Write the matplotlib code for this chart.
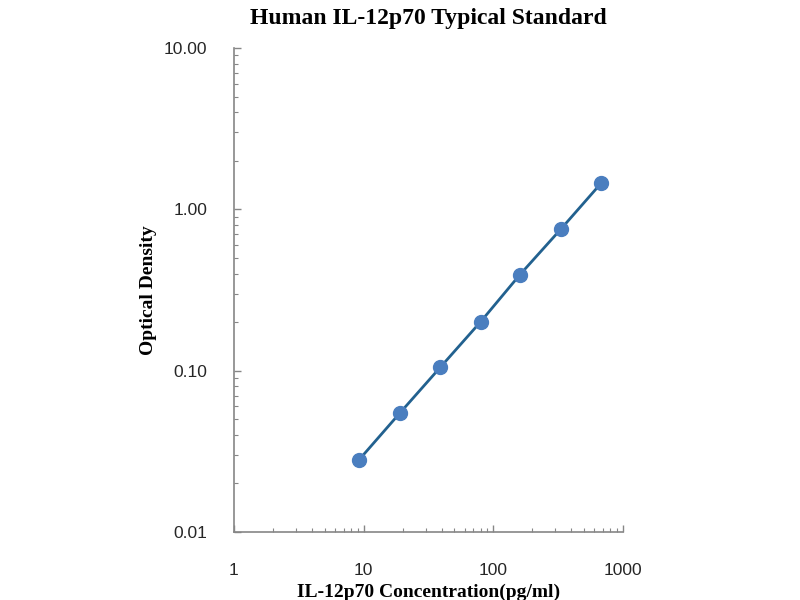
import matplotlib
matplotlib.use("Agg")
import matplotlib.pyplot as plt
from matplotlib.ticker import LogLocator, FixedLocator, FixedFormatter, NullFormatter

# Data
concentration = [9.2, 19, 39, 80, 160, 330, 680]
optical_density = [0.028, 0.0546, 0.105, 0.2015, 0.393, 0.751, 1.457]

x_ticks = [1, 10, 100, 1000]
x_tick_labels = ["1", "10", "100", "1000"]
y_ticks = [0.01, 0.1, 1, 10]
y_tick_labels = ["0.01", "0.10", "1.00", "10.00"]

title = "Human IL-12p70 Typical Standard"
x_label = "IL-12p70 Concentration(pg/ml)"
y_label = "Optical Density"

fig = plt.figure(figsize=(8, 6), dpi=100)
ax = fig.add_axes([0.2925, 0.1133, 0.4863, 0.8067])

ax.plot(concentration, optical_density, color="#22618f", linewidth=2, zorder=2)
ax.plot(concentration, optical_density, linestyle="none", marker="o",
        markersize=10, markerfacecolor="#4a7ebf", markeredgecolor="#4a7ebf", zorder=3)

ax.set_xscale("log")
ax.set_yscale("log")
ax.set_xlim(1, 1000)
ax.set_ylim(0.01, 10)

ax.xaxis.set_major_locator(FixedLocator(x_ticks))
ax.xaxis.set_major_formatter(FixedFormatter(x_tick_labels))
ax.yaxis.set_major_locator(FixedLocator(y_ticks))
ax.yaxis.set_major_formatter(FixedFormatter(y_tick_labels))
ax.xaxis.set_minor_locator(LogLocator(base=10, subs=range(2, 10)))
ax.yaxis.set_minor_locator(LogLocator(base=10, subs=range(2, 10)))
ax.xaxis.set_minor_formatter(NullFormatter())
ax.yaxis.set_minor_formatter(NullFormatter())

for s in ["top", "right"]:
    ax.spines[s].set_visible(False)
for s in ["left", "bottom"]:
    ax.spines[s].set_color("#868686")
    ax.spines[s].set_linewidth(1.2)

ax.tick_params(axis="both", which="major", direction="in", length=5, width=1,
               color="#868686", labelsize=12.5, labelcolor="#262626")
ax.tick_params(axis="both", which="minor", direction="in", length=3, width=0.8,
               color="#868686")
ax.tick_params(axis="x", which="major", pad=22)
ax.tick_params(axis="y", which="major", pad=19)
for lbl in ax.get_xticklabels() + ax.get_yticklabels():
    lbl.set_family("Liberation Sans")

ax.set_title(title, fontfamily="Liberation Serif", fontweight="bold",
             fontsize=17, pad=17)
ax.set_xlabel(x_label, fontfamily="Liberation Serif", fontweight="bold",
              fontsize=14, va="center")
ax.xaxis.set_label_coords(0.5, -0.124)
ax.set_ylabel(y_label, fontfamily="Liberation Serif", fontweight="bold",
              fontsize=14, va="center")
ax.yaxis.set_label_coords(-0.221, 0.5)

fig.savefig("out.png", dpi=100)
